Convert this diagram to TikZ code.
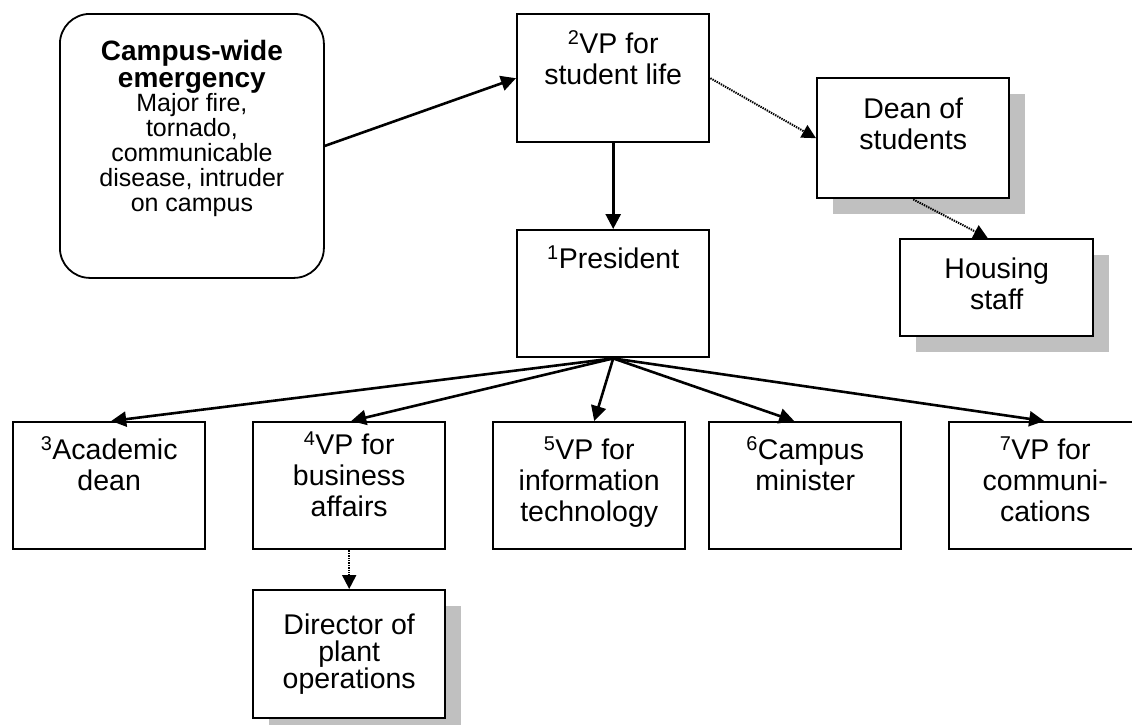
\documentclass[tikz,border=0pt]{standalone}
\usepackage{fontspec}
\setmainfont{Liberation Sans}
\usetikzlibrary{arrows.meta,shadows}
\definecolor{shadowgray}{HTML}{C0C0C0}
% text block of a box: width, height, first baseline below the top edge, lines
\newcommand{\boxtext}[4]{\begin{minipage}[t][#2pt][t]{#1pt}\centering\rule{0pt}{#3pt}#4\end{minipage}}
\begin{document}
\begin{tikzpicture}[x=1pt,y=-1pt,
  orgbox/.style={draw=black, line width=2.4pt, fill=white, inner sep=0pt,
    anchor=north west, font=\fontsize{28.5}{31}\selectfont},
  shadowed/.style={drop shadow={shadow xshift=16pt, shadow yshift=-16pt,
    fill=shadowgray, opacity=1}},
  emergbox/.style={draw=black, line width=1.8pt, rounded corners=30pt,
    fill=white, inner sep=0pt, anchor=north west},
  solidarrow/.style={line width=2.6pt, -{Triangle[length=15pt,width=15pt]}},
  dottedarrow/.style={line width=2pt, dash pattern=on 1.4pt off 1pt,
    -{Triangle[length=14pt,width=14pt]}},
]
\useasboundingbox (0,0) rectangle (1132,724);
\clip (0,0) rectangle (1132,724);

% trigger
\node[emergbox] (emerg) at (59,13) {\begin{minipage}[t][264pt][t]{264pt}\centering
  \rule{0pt}{47pt}{\fontsize{28}{27}\selectfont\bfseries Campus-wide\\emergency\par}
  \vspace{-1pt}{\fontsize{25}{25}\selectfont Major fire,\\tornado,\\communicable\\disease, intruder\\on campus\par}
  \end{minipage}};

% upper part of the chain
\node[orgbox] (vpsl) at (516,13) {\boxtext{192}{128}{39}{\textsuperscript{2}VP for\\student life}};
\node[orgbox] (pres) at (516,229) {\boxtext{192}{127}{38}{\textsuperscript{1}President}};
\node[orgbox, shadowed] (dean) at (816,77) {\boxtext{192}{120}{40}{Dean of\\students}};
\node[orgbox, shadowed] (house) at (899,238) {\boxtext{193}{97}{39}{Housing\\staff}};

% reports of the president
\node[orgbox] (acad) at (12,421) {\boxtext{192}{127}{37}{\textsuperscript{3}Academic\\dean}};
\node[orgbox] (biz) at (252,421) {\boxtext{192}{127}{32}{\textsuperscript{4}VP for\\business\\affairs}};
\node[orgbox] (it) at (492,421) {\boxtext{192}{127}{37}{\textsuperscript{5}VP for\\information\\technology}};
\node[orgbox] (cm) at (708,421) {\boxtext{192}{127}{37}{\textsuperscript{6}Campus\\minister}};
\node[orgbox] (comm) at (948,421) {\boxtext{192}{127}{37}{\textsuperscript{7}VP for\\communi-\\cations}};
\node[orgbox, shadowed] (dir) at (252,589) {\boxtext{192}{128}{44}{\fontsize{28.5}{27}\selectfont Director of\\plant\\operations}};

% connectors
\draw[solidarrow] (emerg.east) -- (vpsl.west);
\draw[solidarrow] (vpsl.south) -- (pres.north);
\draw[dottedarrow] (vpsl.east) -- (dean.west);
\draw[dottedarrow] (dean.south) -- ([xshift=-9pt]house.north);
\draw[solidarrow] (pres.south) -- ([xshift=2pt]acad.north);
\draw[solidarrow] (pres.south) -- ([xshift=2pt]biz.north);
\draw[solidarrow] (pres.south) -- ([xshift=5pt]it.north);
\draw[solidarrow] (pres.south) -- ([xshift=-11pt]cm.north);
\draw[solidarrow] (pres.south) -- ([xshift=-1pt]comm.north);
\draw[dottedarrow] (biz.south) -- (dir.north);
\end{tikzpicture}
\end{document}
